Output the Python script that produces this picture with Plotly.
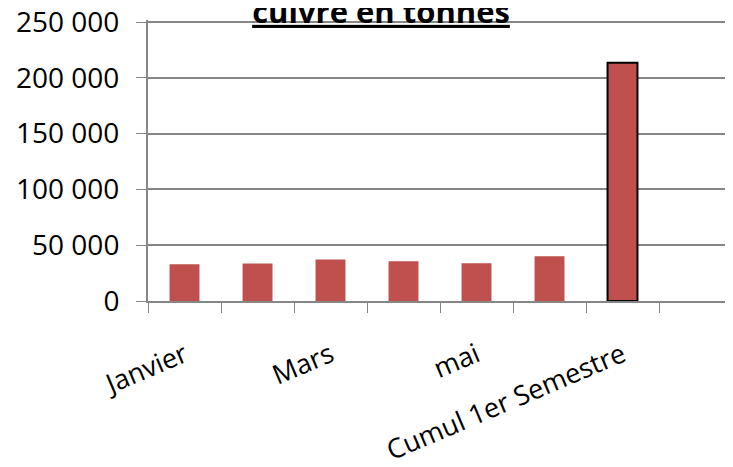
import plotly.graph_objects as go

MOIS = ["Janvier", "Février", "Mars", "Avril", "mai", "Juin", "Cumul 1er Semestre", " "]
TONNES = [32900, 33500, 37100, 35600, 33800, 40100, 213500, None]
ETIQUETTES = ["Janvier", "", "Mars", "", "mai", "", "Cumul 1er Semestre", ""]
Y_TICKS = [0, 50000, 100000, 150000, 200000, 250000]

ROUGE = "#c0504d"
GRIS = "#868686"
POLICE = "Open Sans"

# la page html ajoute 8 px de marge autour de la figure
LARGEUR, HAUTEUR = 725, 459

contours = [0, 0, 0, 0, 0, 0, 2, 0]

fig = go.Figure()
fig.add_trace(go.Bar(
    x=MOIS, y=TONNES,
    marker=dict(color=ROUGE, line=dict(color="black", width=contours)),
    showlegend=False,
))

fig.update_layout(
    width=LARGEUR, height=HAUTEUR,
    margin=dict(l=140, r=1, t=12, b=166),
    paper_bgcolor="white", plot_bgcolor="white",
    separators=", ",
    bargap=0.59,
    font=dict(family=POLICE, size=27, color="black"),
    title=dict(
        text="<b><u>cuivre en tonnes</u></b>",
        x=373 / LARGEUR, xanchor="center", xref="container",
        y=1 - 4 / HAUTEUR, yanchor="middle", yref="container",
        font=dict(family=POLICE, size=31, color="black"),
    ),
)

fig.update_xaxes(
    type="category", categoryorder="array", categoryarray=MOIS,
    range=[-0.5, 7.5], automargin=False,
    tickmode="array", tickvals=MOIS, ticktext=ETIQUETTES,
    tickson="boundaries", ticks="outside", ticklen=10, tickcolor=GRIS,
    tickangle=-23, ticklabelstandoff=26, ticklabeloverflow="allow",
    showline=True, linecolor=GRIS, linewidth=2,
    showgrid=False, zeroline=False,
)
# un peu d'espace au-dessus de 250 000 pour que plotly garde la ligne de grille
fig.update_yaxes(
    range=[0, 251800], tickvals=Y_TICKS, tickformat=",.0f", automargin=False,
    ticks="outside", ticklen=10, tickcolor=GRIS, ticklabelstandoff=11,
    ticklabeloverflow="allow", tickfont=dict(size=28),
    showline=True, linecolor=GRIS, linewidth=2,
    showgrid=True, gridcolor=GRIS, gridwidth=1.5, zeroline=False,
)

fig.write_html("out.html")
